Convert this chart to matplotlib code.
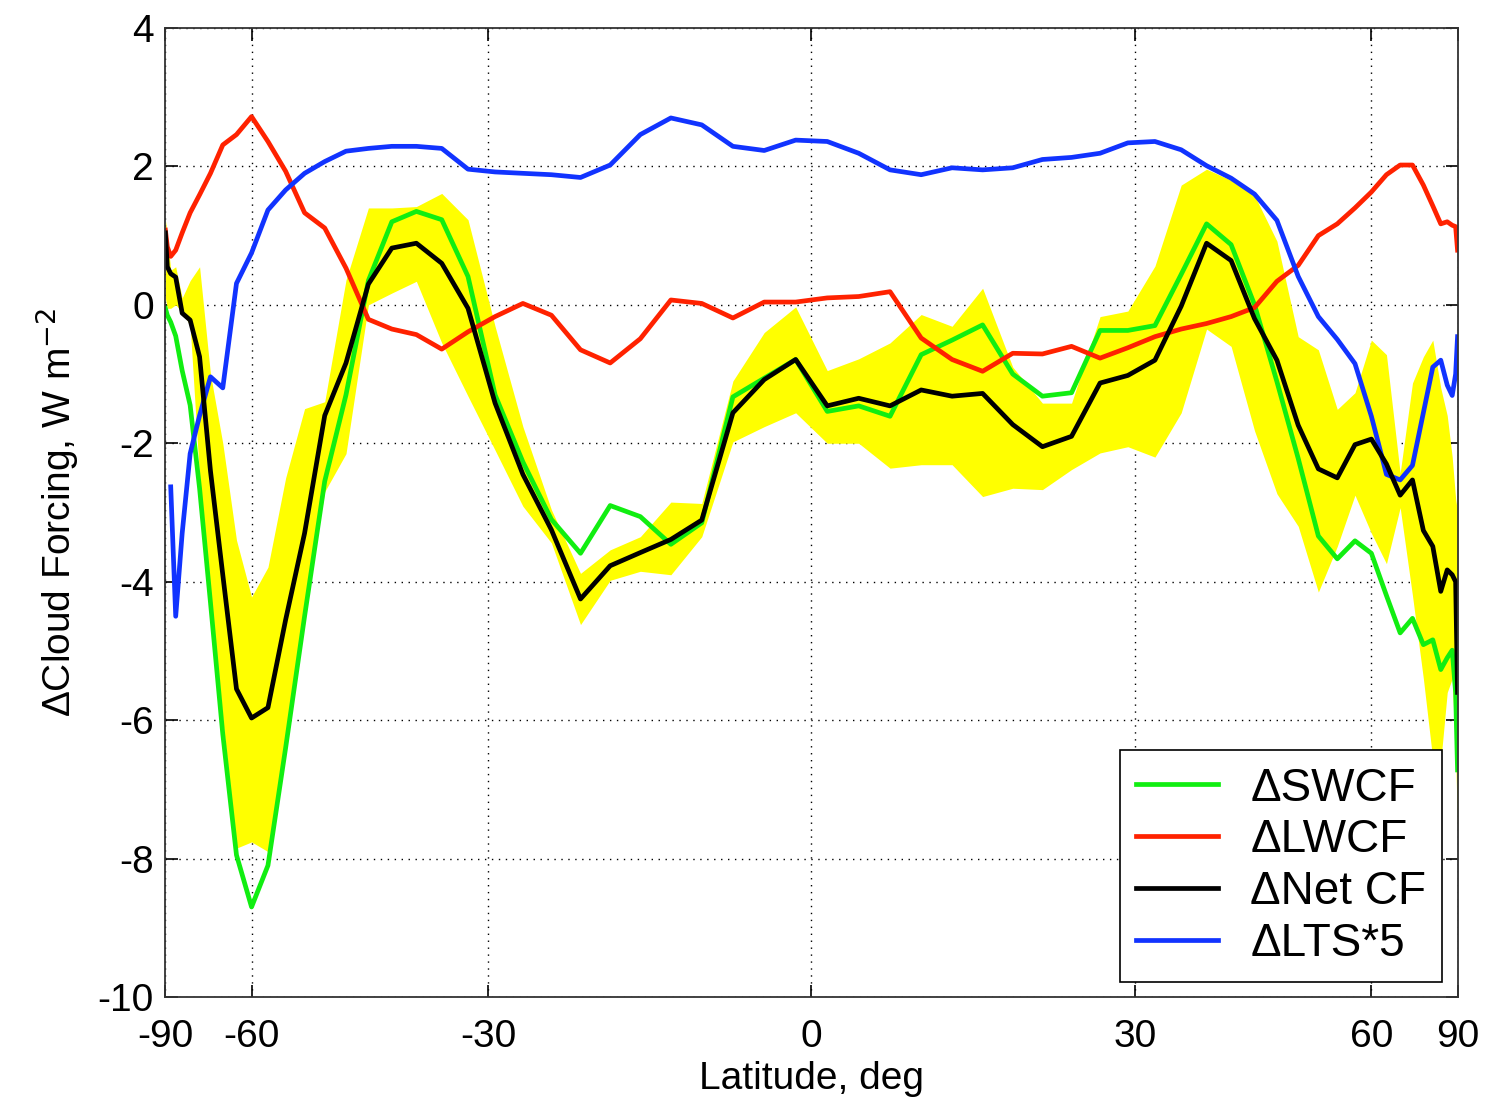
import numpy as np
import matplotlib
matplotlib.use("Agg")
import matplotlib.pyplot as plt

plt.rcParams['font.family'] = ['Liberation Sans', 'DejaVu Sans']
plt.rcParams['axes.unicode_minus'] = False

# T42 Gaussian latitudes (deg)
lat_n = [1.40, 4.19, 6.98, 9.77, 12.56, 15.35, 18.14, 20.93, 23.72, 26.51,
         29.30, 32.09, 34.88, 37.67, 40.47, 43.26, 46.05, 48.84, 51.63, 54.42,
         57.21, 60.00, 62.79, 65.58, 68.37, 71.16, 73.95, 76.74, 79.53, 82.33,
         85.10, 87.86]
lat = [-v for v in lat_n[::-1]] + lat_n

swcf = [-0.05, -0.15, -0.25, -0.45, -0.95, -1.45, -2.65, -4.3, -6.2, -7.95,
        -8.7, -8.1, -6.4, -4.5, -2.55, -1.3, 0.35, 1.20, 1.35, 1.23,
        0.41, -1.3, -2.27, -3.1, -3.59, -2.9, -3.06, -3.46, -3.15, -1.33,
        -1.06, -0.79,
        -1.54, -1.46, -1.61, -0.72, -0.51, -0.29, -1.0, -1.32, -1.27, -0.37,
        -0.37, -0.30, 0.44, 1.17, 0.87, 0.0, -1.11, -2.22, -3.34, -3.67,
        -3.41, -3.59, -4.2, -4.74, -4.53, -4.91, -4.84, -5.27, -5.1, -4.99,
        -5.6, -6.72]

lwcf = [1.08, 0.84, 0.70, 0.79, 1.04, 1.33, 1.59, 1.90, 2.31, 2.46,
        2.72, 2.36, 1.93, 1.33, 1.11, 0.53, -0.21, -0.35, -0.43, -0.64,
        -0.39, -0.17, 0.02, -0.15, -0.65, -0.84, -0.49, 0.07, 0.02, -0.19,
        0.04, 0.04,
        0.10, 0.12, 0.19, -0.48, -0.79, -0.96, -0.70, -0.71, -0.60, -0.77,
        -0.62, -0.46, -0.35, -0.27, -0.17, -0.04, 0.34, 0.57, 1.0, 1.17,
        1.40, 1.63, 1.88, 2.02, 2.02, 1.73, 1.43, 1.17, 1.20, 1.15,
        1.13, 0.79]

netcf = [1.04, 0.55, 0.45, 0.40, -0.12, -0.22, -0.75, -2.4, -3.9, -5.55,
         -5.97, -5.82, -4.55, -3.3, -1.6, -0.84, 0.3, 0.82, 0.89, 0.60,
         -0.05, -1.42, -2.45, -3.25, -4.25, -3.77, -3.58, -3.39, -3.11, -1.56,
         -1.08, -0.79,
         -1.46, -1.35, -1.46, -1.23, -1.32, -1.28, -1.73, -2.05, -1.90, -1.13,
         -1.02, -0.80, -0.02, 0.89, 0.64, -0.20, -0.80, -1.74, -2.37, -2.50,
         -2.02, -1.94, -2.30, -2.75, -2.53, -3.26, -3.49, -4.14, -3.83, -3.9,
         -4.0, -5.6]

lts5 = [np.nan, np.nan, -2.63, -4.5, -3.3, -2.15, -1.6, -1.04, -1.20, 0.31,
        0.75, 1.37, 1.66, 1.90, 2.07, 2.22, 2.26, 2.29, 2.29, 2.26,
        1.96, 1.92, 1.90, 1.88, 1.84, 2.02, 2.46, 2.70, 2.60, 2.29,
        2.23, 2.38,
        2.36, 2.19, 1.95, 1.88, 1.98, 1.95, 1.98, 2.10, 2.13, 2.19,
        2.34, 2.36, 2.24, 2.01, 1.83, 1.60, 1.22, 0.41, -0.17, -0.50,
        -0.85, -1.61, -2.45, -2.53, -2.32, -1.56, -0.90, -0.80, -1.16, -1.31,
        -1.0, -0.46]

band_upper = [1.23, 1.0, 0.5, 0.55, 0.1, 0.35, 0.55, -1.0, -2.0, -3.4,
              -4.22, -3.79, -2.5, -1.5, -1.4, 0.36, 1.40, 1.40, 1.42, 1.61,
              1.23, -0.31, -1.76, -2.96, -3.88, -3.54, -3.35, -2.85, -2.87, -1.10,
              -0.40, -0.03,
              -0.95, -0.78, -0.55, -0.14, -0.31, 0.24, -0.9, -1.42, -1.42, -0.17,
              -0.09, 0.56, 1.73, 1.96, 1.80, 1.58, 0.92, -0.46, -0.65, -1.51,
              -1.27, -0.51, -0.72, -2.43, -1.13, -0.75, -0.51, -1.2, -1.6, -2.2,
              -2.8, -3.0]

band_lower = [0.1, -0.05, -0.05, 0.0, -0.1, -0.3, -2.5, -4.2, -6.0, -7.85,
              -7.76, -7.9, -6.3, -4.4, -2.7, -2.15, 0.0, 0.17, 0.34, -0.55,
              -1.32, -2.10, -2.91, -3.44, -4.62, -3.98, -3.85, -3.90, -3.35, -1.98,
              -1.76, -1.56,
              -2.0, -2.0, -2.36, -2.31, -2.31, -2.77, -2.65, -2.67, -2.38, -2.14,
              -2.05, -2.2, -1.56, -0.35, -0.60, -1.82, -2.73, -3.2, -4.15, -3.49,
              -2.75, -3.3, -3.74, -2.93, -4.2, -5.4, -6.57, -6.6, -5.6, -5.4,
              -6.5, -7.6]

xticks = [-90, -60, -30, 0, 30, 60, 90]
yticks = [-10, -8, -6, -4, -2, 0, 2, 4]


def fwd(x):
    return np.sin(np.deg2rad(x))


def inv(y):
    return np.rad2deg(np.arcsin(np.clip(y, -1, 1)))


fig = plt.figure(figsize=(14.94, 11.06), dpi=100)
ax = fig.add_axes([0.1104, 0.0986, 0.8655, 0.8761])
ax.set_xscale('function', functions=(fwd, inv))

ax.fill_between(lat, band_lower, band_upper, color='#ffff00', lw=0, zorder=1)
lw = 3.4
ax.plot(lat, swcf, color='#11ee11', lw=lw, label='ΔSWCF', zorder=3)
ax.plot(lat, lwcf, color='#ff2200', lw=lw, label='ΔLWCF', zorder=3)
ax.plot(lat, netcf, color='black', lw=lw, label='ΔNet CF', zorder=4)
ax.plot(lat, lts5, color='#1133ff', lw=lw, label='ΔLTS*5', zorder=3)

ax.set_xlim(-90, 90)
ax.set_ylim(-10, 4)
ax.set_xticks(xticks)
ax.set_xticklabels([str(t) for t in xticks])
ax.set_yticks(yticks)
ax.set_yticklabels([str(t) for t in yticks])
ax.minorticks_off()

ax.grid(True, linestyle=(0, (1, 4)), color='black', lw=1.0, zorder=0)
ax.set_axisbelow(True)
ax.tick_params(direction='in', top=True, right=True, length=9, width=1.2,
               labelsize=28)
ax.tick_params(axis='x', pad=16)
ax.tick_params(axis='y', pad=8)
for s in ax.spines.values():
    s.set_linewidth(1.3)
    s.set_color('#333333')
    s.set_zorder(5)

ax.set_xlabel('Latitude, deg', fontsize=28, labelpad=4)
ax.set_ylabel('ΔCloud Forcing, W m$^{-2}$', fontsize=28, labelpad=12)

leg = ax.legend(loc='lower right', bbox_to_anchor=(0.988, 0.0155), fontsize=33,
                handlelength=1.8, labelspacing=0.17, borderpad=0.35,
                handletextpad=0.7, borderaxespad=0, fancybox=False,
                framealpha=1, edgecolor='black')
leg.get_frame().set_linewidth(1.2)

fig.savefig('out.png', dpi=100)
